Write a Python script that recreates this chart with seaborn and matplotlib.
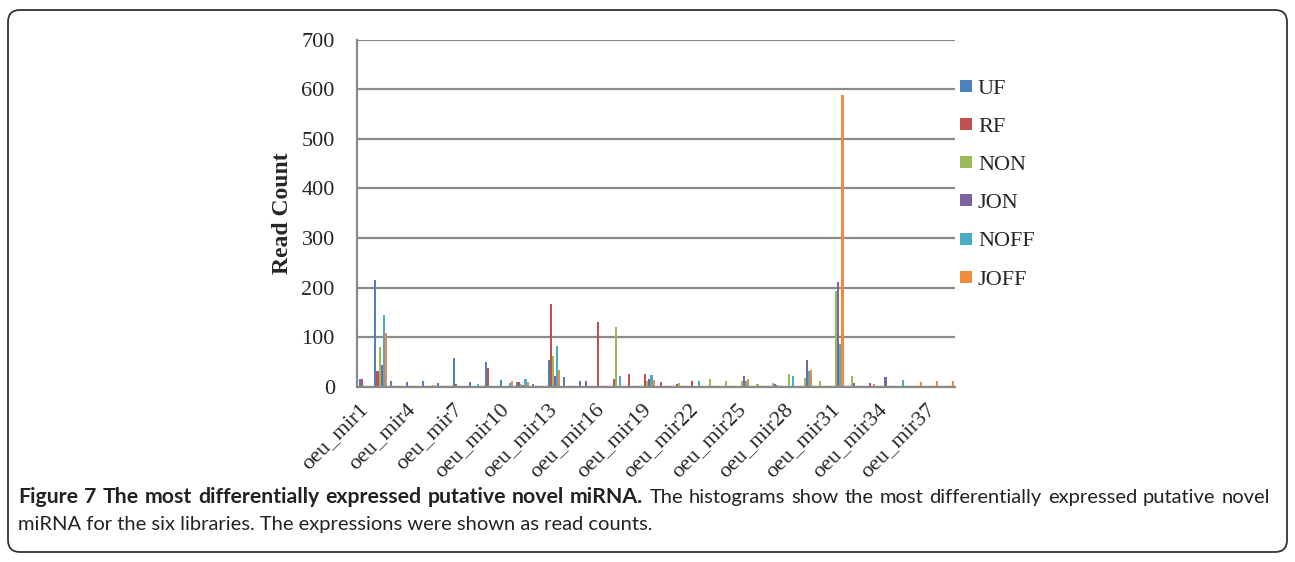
import numpy as np
import pandas as pd
import matplotlib
matplotlib.use("Agg")
import matplotlib.pyplot as plt
import matplotlib.transforms as mtransforms
from matplotlib.patches import FancyBboxPatch, Patch
import seaborn as sns

# read counts per library for oeu_mir1 .. oeu_mir38
mirnas = ["oeu_mir%d" % i for i in range(1, 39)]
libraries = ["UF", "RF", "NON", "JON", "NOFF", "JOFF"]

uf = [15, 216, 11, 9, 12, 8, 58, 9, 50, 14, 9, 6, 53, 20, 11, 0, 0, 0, 0, 0,
      0, 0, 0, 0, 0, 0, 0, 0, 0, 0, 0, 0, 0, 0, 0, 0, 0, 0]
rf = [15, 31, 0, 0, 0, 0, 5, 0, 38, 0, 10, 0, 166, 0, 0, 131, 15, 26, 26, 10,
      6, 11, 0, 0, 0, 0, 0, 0, 0, 0, 0, 0, 0, 0, 0, 0, 0, 0]
non = [0, 81, 0, 0, 0, 0, 0, 0, 0, 0, 6, 0, 62, 0, 0, 0, 121, 0, 12, 0,
       7, 0, 16, 11, 11, 5, 7, 25, 17, 11, 193, 21, 0, 0, 0, 0, 0, 0]
jon = [0, 44, 0, 0, 0, 0, 0, 0, 0, 0, 3, 0, 22, 0, 11, 0, 0, 0, 16, 0,
       0, 0, 0, 0, 21, 0, 5, 0, 53, 0, 211, 7, 7, 19, 0, 0, 0, 0]
noff = [0, 144, 0, 0, 0, 0, 0, 6, 0, 7, 16, 0, 82, 0, 0, 0, 22, 0, 23, 0,
        0, 11, 0, 0, 11, 0, 4, 21, 31, 0, 87, 0, 0, 0, 13, 0, 0, 0]
joff = [0, 109, 0, 0, 4, 0, 0, 0, 0, 12, 10, 0, 34, 0, 0, 0, 0, 0, 13, 0,
        0, 0, 0, 0, 15, 0, 0, 0, 33, 0, 588, 0, 5, 0, 0, 10, 11, 12]

colors = ["#4F81BD", "#C0504D", "#9BBB59", "#8064A2", "#4BACC6", "#F08A3C"]

caption_bold = "Figure 7 The most differentially expressed putative novel miRNA."
caption_rest1 = "The histograms show the most differentially expressed putative novel"
caption_line2 = "miRNA for the six libraries. The expressions were shown as read counts."

rows = []
for lib, vals in zip(libraries, [uf, rf, non, jon, noff, joff]):
    for m, v in zip(mirnas, vals):
        rows.append({"miRNA": m, "Library": lib, "Count": v})
df = pd.DataFrame(rows)

sns.set_style("white")
plt.rcParams["font.family"] = ["Liberation Serif", "DejaVu Serif"]

W, H = 1295, 562
fig = plt.figure(figsize=(W / 100, H / 100), dpi=100)
ax = fig.add_axes([0.2757, 0.3119, 0.7377 - 0.2757, 0.9297 - 0.3119])

sns.barplot(data=df, x="miRNA", y="Count", hue="Library", order=mirnas,
            hue_order=libraries, palette=colors, width=0.8, saturation=1,
            linewidth=0, ax=ax, legend=False)

grid_c = "#8a8a8a"
ax.set_ylim(0, 700)
ax.set_xlim(-0.5, len(mirnas) - 0.5)
ax.set_yticks(range(0, 701, 100))
ax.yaxis.grid(True, color=grid_c, linewidth=1.6)
ax.set_axisbelow(True)
for s in ["top", "right"]:
    ax.spines[s].set_visible(False)
for s in ["left", "bottom"]:
    ax.spines[s].set_color(grid_c)
    ax.spines[s].set_linewidth(1.6)

ax.set_xticks(range(0, len(mirnas), 3))
ax.set_xticklabels(mirnas[::3], rotation=45, ha="right", va="center",
                   rotation_mode="anchor", fontsize=16)
shift = mtransforms.ScaledTranslation(9 / 100, 0, fig.dpi_scale_trans)
for lab in ax.get_xticklabels():
    lab.set_transform(lab.get_transform() + shift)
ax.set_xticks(np.arange(-0.5, len(mirnas), 1), minor=True)
ax.tick_params(axis="x", which="major", length=0, pad=14)
ax.tick_params(axis="x", which="minor", length=5, width=1.5, color=grid_c,
               direction="out")
ax.tick_params(axis="y", length=5, width=1.5, color=grid_c, direction="out",
               labelsize=16, pad=11)
ax.set_xlabel("")
ax.set_ylabel("Read Count", fontsize=17, fontweight="bold", labelpad=6)

handles = [Patch(facecolor=c, edgecolor="none") for c in colors]
ax.legend(handles, libraries, loc="upper left",
          bbox_to_anchor=(960 / W, 1 - 80 / H),
          bbox_transform=fig.transFigure, frameon=False, fontsize=16,
          handlelength=0.56, handleheight=0.45, handletextpad=0.25,
          labelspacing=0.86, borderpad=0, borderaxespad=0)

# caption: first line set to the full width between the margins
cap_font = ["Lato", "DejaVu Sans"]
cap_c = "#222222"
renderer = fig.canvas.get_renderer()
words = [(w, "bold", 15.3) for w in caption_bold.split()] + \
        [(w, "normal", 14.5) for w in caption_rest1.split()]
texts, widths = [], []
for w, wt, fs in words:
    t = fig.text(0, 1 - 503 / H, w, fontsize=fs, fontweight=wt,
                 family=cap_font, color=cap_c)
    texts.append(t)
    widths.append(t.get_window_extent(renderer).width)
x0, x1 = 18, 1270
gap = (x1 - x0 - sum(widths)) / (len(words) - 1)
x = x0
for t, w in zip(texts, widths):
    t.set_x(x / W)
    x += w + gap
fig.text(x0 / W, 1 - 530 / H, caption_line2, fontsize=14.5,
         family=cap_font, color=cap_c)

frame = FancyBboxPatch((0.08, 0.10), 12.79, 5.42,
                       boxstyle="round,pad=0,rounding_size=0.12",
                       transform=fig.dpi_scale_trans, fill=False,
                       edgecolor="#333333", linewidth=1.3)
fig.patches.append(frame)

fig.savefig("out.png", dpi=100)
